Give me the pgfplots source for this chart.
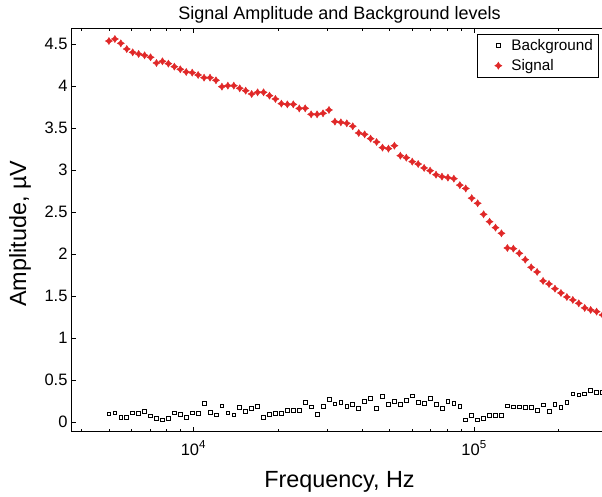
\documentclass[border=0pt]{standalone}
\usepackage{fontspec}
\setmainfont{Liberation Sans}
\usepackage{pgfplots}
\pgfplotsset{compat=1.18}

\definecolor{sigred}{RGB}{224,40,40}

% four-pointed star, like the red markers
\pgfdeclareplotmark{sigstar}{%
  \pgfpathmoveto{\pgfqpoint{0pt}{\pgfplotmarksize}}%
  \pgfpathlineto{\pgfqpoint{0.38\pgfplotmarksize}{0.38\pgfplotmarksize}}%
  \pgfpathlineto{\pgfqpoint{\pgfplotmarksize}{0pt}}%
  \pgfpathlineto{\pgfqpoint{0.38\pgfplotmarksize}{-0.38\pgfplotmarksize}}%
  \pgfpathlineto{\pgfqpoint{0pt}{-\pgfplotmarksize}}%
  \pgfpathlineto{\pgfqpoint{-0.38\pgfplotmarksize}{-0.38\pgfplotmarksize}}%
  \pgfpathlineto{\pgfqpoint{-\pgfplotmarksize}{0pt}}%
  \pgfpathlineto{\pgfqpoint{-0.38\pgfplotmarksize}{0.38\pgfplotmarksize}}%
  \pgfpathclose
  \pgfusepathqfillstroke
}

\begin{document}
\begin{tikzpicture}
\begin{axis}[
    at={(71pt,64.5pt)}, anchor=south west,
    scale only axis,
    width=537pt, height=403.5pt,
    xmode=log,
    xmin=3664, xmax=300000,
    ymin=-0.11, ymax=4.69,
    xtick={10000,100000},
    xticklabels={10\textsuperscript{4},10\textsuperscript{5}},
    minor xtick={4000,5000,6000,7000,8000,9000,20000,30000,40000,50000,60000,70000,80000,90000,200000,300000},
    ytick={0,0.5,1,1.5,2,2.5,3,3.5,4,4.5},
    yticklabel style={/pgf/number format/fixed, /pgf/number format/assume math mode=true},
    xticklabel style={yshift=-6pt},
    tick label style={font=\fontsize{16.5}{19}\selectfont},
    major tick length=5pt, minor tick length=3pt,
    axis line style={line width=0.8pt},
    every tick/.style={black, line width=0.5pt},
    title={Signal Amplitude and Background levels},
    title style={font=\fontsize{18}{21}\selectfont, at={(axis description cs:0.5,1)}, anchor=base, yshift=2pt},
    xlabel={Frequency, Hz},
    xlabel style={font=\fontsize{23.4}{27}\selectfont, at={(axis description cs:0.5,-0.14)}, anchor=base},
    ylabel={Amplitude, µV},
    ylabel style={font=\fontsize{23.4}{27}\selectfont, at={(axis description cs:-0.095,0.49)}, anchor=center, rotate=0},
    legend image code/.code={\path[draw=none,fill=none] (0pt,0pt) -- (29pt,0pt); \draw[#1] plot coordinates {(18pt,0pt)};},
    legend style={at={(axis description cs:0.7561,0.9851)}, anchor=north west,
        font=\fontsize{15.3}{18}\selectfont, draw=black, line width=0.6pt,
        inner xsep=3pt, inner ysep=3pt, row sep=3.5pt},
    legend cell align=left,
]
\addplot[only marks, mark=square, mark size=1.9pt, mark options={black, line width=0.75pt}] table {
x y
5000 0.099
5250 0.111
5513 0.055
5788 0.055
6078 0.111
6381 0.103
6700 0.127
7036 0.075
7387 0.048
7757 0.028
8144 0.048
8552 0.111
8979 0.095
9428 0.059
9900 0.111
10395 0.107
10914 0.226
11460 0.119
12033 0.087
12635 0.194
13266 0.111
13930 0.087
14626 0.174
15358 0.131
16126 0.167
16932 0.186
17778 0.059
18667 0.095
19601 0.103
20581 0.103
21610 0.143
22690 0.146
23825 0.143
25016 0.233
26267 0.182
27580 0.095
28959 0.186
30407 0.274
31927 0.218
33524 0.238
35200 0.190
36960 0.214
38808 0.167
40748 0.245
42786 0.285
44925 0.167
47171 0.305
49530 0.214
52006 0.253
54607 0.214
57337 0.265
60204 0.313
63214 0.238
66375 0.226
69693 0.285
73178 0.214
76837 0.167
80679 0.253
84713 0.226
88949 0.186
93396 0.028
98066 0.083
102969 0.028
108117 0.048
113523 0.079
119200 0.079
125159 0.079
131417 0.194
137988 0.182
144888 0.182
152132 0.178
159739 0.174
167726 0.146
176112 0.206
184918 0.134
194163 0.214
203872 0.174
214065 0.233
224768 0.337
236007 0.325
247807 0.337
260198 0.376
273207 0.357
286868 0.357
};
\addlegendentry{Background}
\addplot[only marks, mark=sigstar, mark size=3.5pt, mark options={sigred, fill=sigred, line width=0.5pt}] table {
x y
5000 4.535
5250 4.559
5513 4.508
5788 4.440
6078 4.401
6381 4.381
6700 4.365
7036 4.342
7387 4.274
7757 4.294
8144 4.266
8552 4.230
8979 4.199
9428 4.167
9900 4.159
10395 4.131
10914 4.099
11460 4.099
12033 4.068
12635 3.992
13266 4.004
13930 4.004
14626 3.973
15358 3.944
16126 3.905
16932 3.925
17778 3.925
18667 3.885
19601 3.846
20581 3.790
21610 3.782
22690 3.782
23825 3.733
25016 3.735
26267 3.663
27580 3.663
28959 3.675
30407 3.715
31927 3.576
33524 3.568
35200 3.556
36960 3.521
38808 3.441
40748 3.425
42786 3.374
44925 3.334
47171 3.267
49530 3.255
52006 3.290
54607 3.171
57337 3.147
60204 3.100
63214 3.072
66375 3.025
69693 2.993
73178 2.945
76837 2.922
80679 2.910
84713 2.898
88949 2.821
93396 2.781
98066 2.666
102969 2.605
108117 2.474
113523 2.386
119200 2.315
125159 2.248
131417 2.073
137988 2.065
144888 2.010
152132 1.934
159739 1.843
167726 1.788
176112 1.681
184918 1.645
194163 1.589
203872 1.538
214065 1.490
224768 1.455
236007 1.415
247807 1.360
260198 1.336
273207 1.316
286868 1.276
};
\addlegendentry{Signal}
\end{axis}
\pgfresetboundingbox
\useasboundingbox (0,0) rectangle (602pt,496pt);
\end{tikzpicture}
\end{document}
